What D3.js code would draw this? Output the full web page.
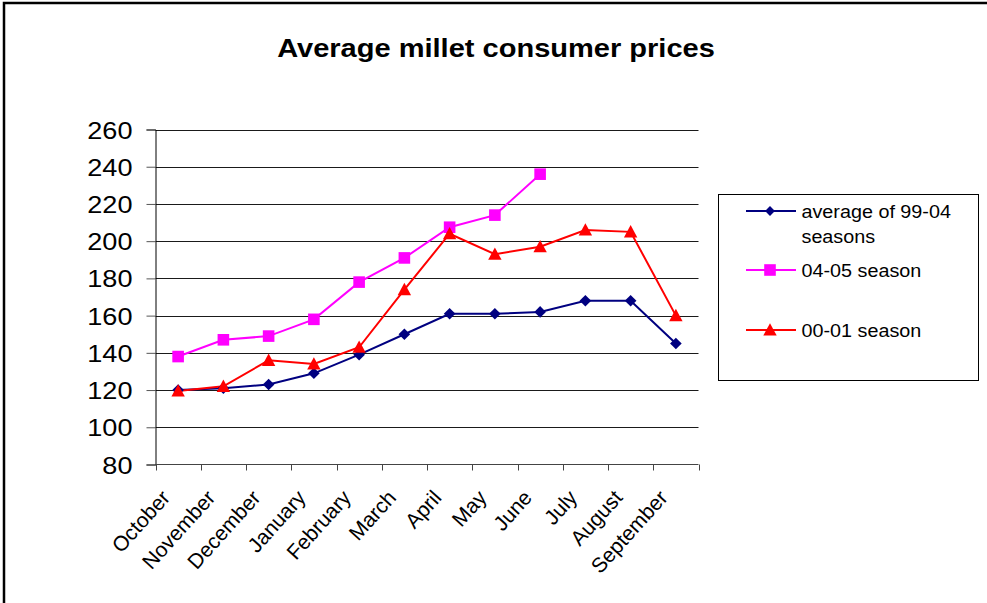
<!DOCTYPE html>
<html><head><meta charset="utf-8">
<script src="https://cdn.jsdelivr.net/npm/d3@7"></script>
<style>html,body{margin:0;padding:0;background:#fff;}svg{display:block;}</style>
</head><body>
<script>
const months = ["October","November","December","January","February","March","April","May","June","July","August","September"];
const avg9904 = [120,121,123,129,139,150,161,161,162,168,168,145];
const season0405 = [138,147,149,158,178,191,207.5,214,236,null,null,null];
const season0001 = [119.5,122,136,134,143,174,204,193,197,206,205,160];
const yTicks = [80,100,120,140,160,180,200,220,240,260];
const seriesNames = ["average of 99-04 seasons","04-05 season","00-01 season"];

const W = 987, H = 603;
const svg = d3.select("body").append("svg").attr("width", W).attr("height", H);
const font = "'Liberation Sans', Arial, sans-serif";
const SX = 1.13;

// outer border (top and left visible)
svg.append("path").attr("d", `M4,${H} L4,3 L${W},3`).attr("fill","none").attr("stroke","#000").attr("stroke-width",2.5);

// title
svg.append("text").attr("transform", `translate(496,57) scale(${SX},1)`)
  .attr("text-anchor","middle").attr("font-family",font).attr("font-weight","bold")
  .attr("font-size",25.7).text("Average millet consumer prices");

const x = d3.scaleBand().domain(months).range([155.5, 698.5]).paddingInner(0).paddingOuter(0);
const y = d3.scaleLinear().domain([80,260]).range([464.5,129.5]);

// gridlines
svg.append("g").selectAll("line").data(yTicks.filter(t=>t>80)).join("line")
  .attr("x1",155.5).attr("x2",698.5).attr("y1",d=>Math.round(y(d))+0.5).attr("y2",d=>Math.round(y(d))+0.5)
  .attr("stroke","#1a1a1a").attr("stroke-width",1);

// y axis
const yAxis = d3.axisLeft(y).tickValues(yTicks).tickSize(9).tickPadding(0).tickFormat(d3.format("d"));
const gy = svg.append("g").attr("transform","translate(155.5,0)").call(yAxis);
gy.select(".domain").attr("stroke","#000");
gy.selectAll(".tick line").attr("stroke","#555");
gy.selectAll(".tick text").attr("font-family",font).attr("font-size",24).attr("fill","#000")
  .attr("x",0).attr("dy",0)
  .attr("transform",`translate(-23,8.5) scale(${SX},1)`).attr("text-anchor","end");

// x axis: ticks at category boundaries
const gx = svg.append("g").attr("transform","translate(0,464.5)");
gx.append("line").attr("x1",155.5).attr("x2",698.5).attr("y1",0).attr("y2",0).attr("stroke","#444");
const bounds = months.map(m=>x(m)).concat([x.range()[1]]);
gx.selectAll("line.tk").data(bounds).join("line").attr("class","tk")
  .attr("x1",d=>Math.round(d)+0.5).attr("x2",d=>Math.round(d)+0.5).attr("y1",0).attr("y2",6).attr("stroke","#444");
gx.selectAll("text").data(months).join("text")
  .attr("transform",d=>`translate(${x(d)+x.bandwidth()/2-7},${34}) rotate(-48)`)
  .attr("text-anchor","end").attr("font-family",font).attr("font-size",21).attr("fill","#000")
  .text(d=>d);

const cx = m => x(m) + x.bandwidth()/2;
const colors = ["#000080","#ff00ff","#ff0000"];
const data = [avg9904, season0405, season0001];
const markerPaths = [
  "M0,-5.8L5.8,0L0,5.8L-5.8,0Z",
  "M-5.8,-5.8H5.8V5.8H-5.8Z",
  "M0,-6.8L6.7,5.6H-6.7Z"
];

data.forEach((vals, i) => {
  const pts = months.map((m,j)=>({m, v: vals[j]})).filter(p=>p.v!=null);
  svg.append("path").datum(pts)
    .attr("d", d3.line().x(p=>cx(p.m)).y(p=>y(p.v)))
    .attr("fill","none").attr("stroke",colors[i]).attr("stroke-width",2);
});
data.forEach((vals, i) => {
  const pts = months.map((m,j)=>({m, v: vals[j]})).filter(p=>p.v!=null);
  svg.append("g").selectAll("path").data(pts).join("path")
    .attr("transform",p=>`translate(${cx(p.m)},${y(p.v)})`)
    .attr("d", markerPaths[i])
    .attr("fill",colors[i]);
});

// legend
const lg = svg.append("g");
lg.append("rect").attr("x",718.5).attr("y",194.5).attr("width",260).attr("height",186)
  .attr("fill","#fff").attr("stroke","#000").attr("stroke-width",1);
const legendRows = [
  {lines:["average of 99-04","seasons"], y:211},
  {lines:["04-05 season"], y:270},
  {lines:["00-01 season"], y:330}
];
legendRows.forEach((r,i)=>{
  lg.append("line").attr("x1",746).attr("x2",796).attr("y1",r.y).attr("y2",r.y).attr("stroke",colors[i]).attr("stroke-width",2);
  lg.append("path").attr("transform",`translate(770,${r.y})${i===0?" scale(0.85)":""}`)
    .attr("d", markerPaths[i]).attr("fill",colors[i]);
  r.lines.forEach((t,k)=>{
    lg.append("text").attr("transform",`translate(801.5,${r.y+6.5+k*25}) scale(${SX},1)`)
      .attr("font-family",font).attr("font-size",17.5).attr("fill","#000").text(t);
  });
});
</script>
</body></html>
